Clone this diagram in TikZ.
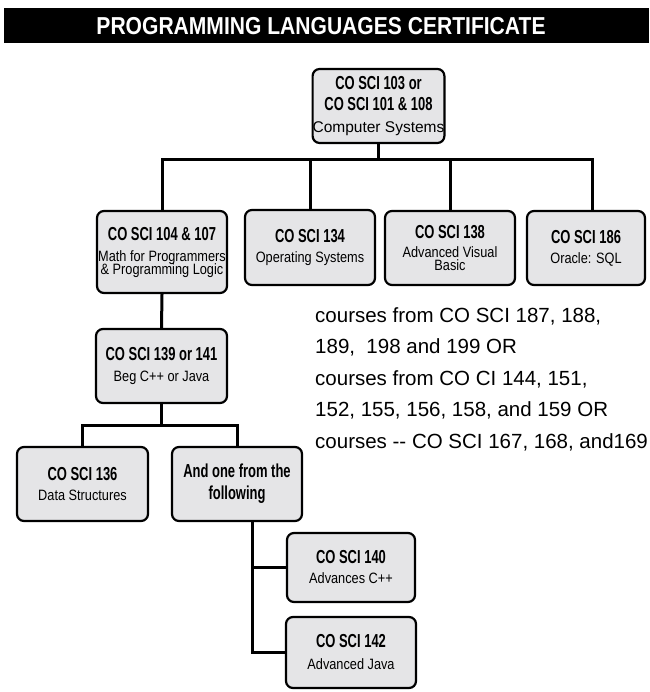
\documentclass[tikz,border=0pt]{standalone}
\usepackage{fontspec}
\setmainfont{Liberation Sans}
\newfontfamily\hdfont[FakeStretch=0.69]{Liberation Sans}
\newfontfamily\sbfont[FakeStretch=0.85]{Liberation Sans}
\newfontfamily\ttlfont[FakeStretch=0.86]{Liberation Sans}
\definecolor{boxgray}{RGB}{229,229,231}
\newcommand\hd{\hdfont\bfseries\fontsize{18.8}{0}\selectfont}
\newcommand\sbt{\sbfont\mdseries\fontsize{15}{0}\selectfont}
\newcommand\cmpsys{\rmfamily\mdseries\fontsize{15.5}{0}\selectfont}
\newcommand\para{\rmfamily\mdseries\fontsize{20.5}{24}\selectfont}
\newcommand\boxfont{\fontsize{15}{0}\selectfont\lineskiplimit=-200pt\lineskip=0pt}
\begin{document}
\begin{tikzpicture}[x=1pt,y=-1pt,
  box/.style={draw=black, line width=2.2pt, fill=boxgray, rounded corners=7pt,
              inner sep=0pt, align=center, font=\boxfont},
  conn/.style={draw=black, line width=3pt},
  paraline/.style={anchor=base west, inner sep=0pt, font=\para}]
\useasboundingbox (0,0) rectangle (649,692);
% title bar
\fill[black] (4,8) rectangle (649,43);
\node[text=white, font={\ttlfont\bfseries\fontsize{24.5}{24}\selectfont}] (title) at (321,26)
  {PROGRAMMING LANGUAGES CERTIFICATE};
% boxes
\node[box, minimum width=131pt, minimum height=74pt] (top) at (378.5,106)
  {\hd CO SCI 103 or\\[21.5pt]\hd CO SCI 101 \& 108\\[21.5pt]\cmpsys Computer Systems};
\node[box, minimum width=130pt, minimum height=82pt] (b104) at (162,252)
  {\hd CO SCI 104 \& 107\\[21pt]\sbt Math for Programmers\\[13pt]\sbt \& Programming Logic};
\node[box, minimum width=130pt, minimum height=75pt] (b134) at (310,247.5)
  {\hd CO SCI 134\\[20pt]\sbt Operating Systems};
\node[box, minimum width=130pt, minimum height=74pt] (b138) at (450,248)
  {\hd CO SCI 138\\[19.5pt]\sbt Advanced Visual\\[13pt]\sbt Basic};
\node[box, minimum width=118pt, minimum height=74pt] (b186) at (586,248)
  {\hd CO SCI 186\\[20pt]\sbt Oracle: SQL};
\node[box, minimum width=131pt, minimum height=74pt] (b139) at (161.5,366)
  {\hd CO SCI 139 or 141\\[21pt]\sbt Beg C++ or Java};
\node[box, minimum width=131pt, minimum height=74pt] (b136) at (82.5,484)
  {\hd CO SCI 136\\[19.5pt]\sbt Data Structures};
\node[box, minimum width=130pt, minimum height=74pt] (band) at (237,484)
  {\hd And one from the\\[22pt]\hd following};
\node[box, minimum width=128pt, minimum height=69pt] (b140) at (351,567.5)
  {\hd CO SCI 140\\[20pt]\sbt Advances C++};
\node[box, minimum width=130pt, minimum height=71pt] (b142) at (351,652.5)
  {\hd CO SCI 142\\[22pt]\sbt Advanced Java};
% connectors
\coordinate (busL) at (162,160);
\coordinate (busR) at (592,160);
\coordinate (bus2) at (160,425);
\coordinate (vtop) at (252,521);
\draw[conn] (top.south) -- (top.south |- busL);
\draw[conn] (b104.north) -- (busL) -- (busR) -- (busR |- b186.north);
\draw[conn] (b134.north) -- (b134.north |- busL);
\draw[conn] (b138.north) -- (b138.north |- busL);
\draw[conn] (b104.south) -- (b139.north);
\draw[conn] (b139.south) -- (b139.south |- bus2);
\draw[conn] (b136.north) -- (b136.north |- bus2) -| (band.north);
\draw[conn] (vtop) |- (b142.west);
\draw[conn] (vtop |- b140.west) -- (b140.west);
% free text
\node[paraline] (t1) at (315,322) {courses from CO SCI 187, 188,};
\node[paraline] (t2) at (315,353.5) {189,~ 198 and 199 OR};
\node[paraline] (t3) at (315,385) {courses from CO CI 144, 151,};
\node[paraline] (t4) at (315,416.5) {152, 155, 156, 158, and 159 OR};
\node[paraline] (t5) at (315,448) {courses -{}- CO SCI 167, 168, and169};
\end{tikzpicture}
\end{document}
